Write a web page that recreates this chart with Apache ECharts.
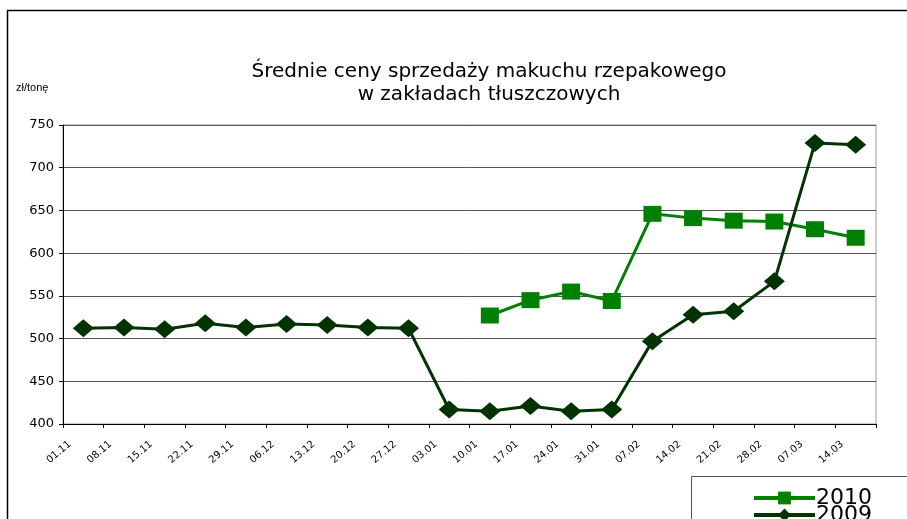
<!DOCTYPE html>
<html>
<head>
<meta charset="utf-8">
<title>Średnie ceny sprzedaży makuchu rzepakowego</title>
<script src="https://cdn.jsdelivr.net/npm/echarts@6/dist/echarts.min.js"></script>
<style>
  html, body { margin: 0; padding: 0; background: #fff; }
  #main { width: 907px; height: 519px; }
</style>
</head>
<body>
<div id="main"></div>
<script>
// tygodnie (etykiety osi X)
var weeks = ['01.11', '08.11', '15.11', '22.11', '29.11', '06.12', '13.12', '20.12', '27.12', '03.01',
             '10.01', '17.01', '24.01', '31.01', '07.02', '14.02', '21.02', '28.02', '07.03', '14.03'];

// ceny zł/tonę
var prices2010 = [null, null, null, null, null, null, null, null, null, null,
                  527, 545, 555, 544, 646, 641, 638, 637, 628, 618];
var prices2009 = [512, 513, 511, 518, 513, 517, 516, 513, 512, 417,
                  415, 421, 415, 417, 497, 528, 532, 567, 729, 727];

var yTicks = [400, 450, 500, 550, 600, 650, 700, 750];

var myChart = echarts.init(document.getElementById('main'));

// etykiety stoją tuż za podziałką (jak w Excelu), nie w środku kategorii
var labelShift = 0.17;
var labelPos = [];
for (var i = 0; i < weeks.length; i++) {
    labelPos.push(i + labelShift);
}

var legendText = {
    fontFamily: 'DejaVu Sans',
    fontSize: 22,
    lineHeight: 17,
    color: '#000',
    padding: [0, 0, 0, -4]
};

var option = {
    animation: false,
    backgroundColor: '#fff',
    title: {
        text: 'Średnie ceny sprzedaży makuchu rzepakowego\nw zakładach tłuszczowych',
        left: 484,
        top: 55,
        textAlign: 'center',
        textStyle: {
            fontFamily: 'DejaVu Sans',
            fontWeight: 'normal',
            fontSize: 20,
            lineHeight: 23,
            color: '#000'
        }
    },
    legend: [{
        data: ['2010'],
        left: 747,
        top: 482,
        itemWidth: 61,
        itemHeight: 16,
        lineStyle: { width: 4 },
        textStyle: legendText
    }, {
        data: ['2009'],
        left: 747,
        top: 499,
        itemWidth: 61,
        itemHeight: 16,
        lineStyle: { width: 4 },
        textStyle: legendText
    }],
    grid: {
        left: 63,
        right: 31,
        top: 125,
        bottom: 95,
        show: true,
        borderColor: '#999',
        borderWidth: 1
    },
    xAxis: [{
        type: 'category',
        data: weeks,
        boundaryGap: true,
        axisLine: { lineStyle: { color: '#000', width: 1 } },
        axisTick: { show: true, interval: 0, length: 4, lineStyle: { color: '#000' } },
        axisLabel: { show: false }
    }, {
        type: 'value',
        min: 0,
        max: weeks.length,
        position: 'bottom',
        axisLine: { show: false },
        axisTick: { show: false },
        splitLine: { show: false },
        axisLabel: {
            customValues: labelPos,
            rotate: 40,
            margin: 19,
            fontFamily: 'DejaVu Sans',
            fontSize: 10,
            color: '#000',
            formatter: function (v) {
                return weeks[Math.round(v - labelShift)] || '';
            }
        }
    }],
    yAxis: {
        type: 'value',
        min: yTicks[0],
        max: yTicks[yTicks.length - 1],
        interval: 50,
        axisLine: { show: true, lineStyle: { color: '#000', width: 1 } },
        axisTick: { show: true, length: 4, lineStyle: { color: '#000' } },
        axisLabel: {
            margin: 9,
            fontFamily: 'DejaVu Sans',
            fontSize: 13,
            color: '#000'
        },
        splitLine: { show: true, lineStyle: { color: '#555', width: 1 } }
    },
    graphic: [{
        type: 'line',
        shape: { x1: 7, y1: 10.5, x2: 907, y2: 10.5 },
        style: { stroke: '#000', lineWidth: 1.5 }
    }, {
        type: 'line',
        shape: { x1: 7.5, y1: 10, x2: 7.5, y2: 519 },
        style: { stroke: '#000', lineWidth: 1.5 }
    }, {
        type: 'rect',
        shape: { x: 691.5, y: 476.5, width: 230, height: 60 },
        style: { fill: '#fff', stroke: '#555', lineWidth: 1 },
        z: 1
    }, {
        type: 'text',
        left: 16,
        top: 82,
        style: {
            text: 'zł/tonę',
            font: '11px "Liberation Sans"',
            fill: '#000'
        }
    }],
    series: [{
        name: '2010',
        type: 'line',
        data: prices2010,
        symbol: 'rect',
        symbolSize: [18, 16],
        connectNulls: false,
        itemStyle: { color: '#008000' },
        lineStyle: { color: '#008000', width: 3 },
        z: 3
    }, {
        name: '2009',
        type: 'line',
        data: prices2009,
        symbol: 'diamond',
        symbolSize: [21, 18],
        itemStyle: { color: '#003300' },
        lineStyle: { color: '#003300', width: 3 },
        z: 4
    }]
};

myChart.setOption(option);
</script>
</body>
</html>
